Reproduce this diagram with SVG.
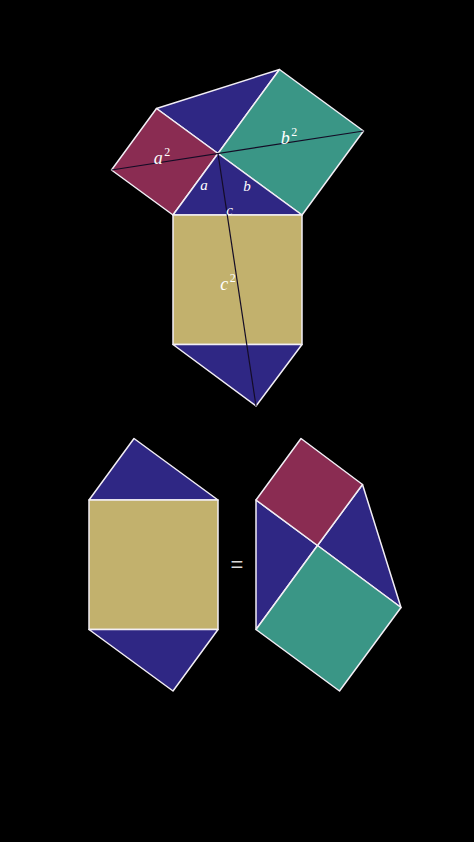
<svg xmlns="http://www.w3.org/2000/svg" width="474" height="842" viewBox="0 0 474 842">
<style>
.s{stroke:#f2eef5;stroke-width:1.5;stroke-linejoin:round}
.mar{fill:#8a2c52}
.blu{fill:#2f2784}
.tea{fill:#3a9686}
.yel{fill:#c2b16d}
.lbl{font-family:"Liberation Serif","DejaVu Serif",serif;font-style:italic;fill:#ffffff;text-anchor:middle}
.diag{stroke:#140c26;stroke-width:1.2;fill:none}
</style>
<rect width="474" height="842" fill="#000000"/>
<g id="top-figure">
  <g id="top-triangle-upper"><polygon class="blu s" points="218,153.5 156.5,108.5 279.5,69.5"/></g>
  <g id="square-a"><polygon class="mar s" points="218,153.5 173,215 111.5,170 156.5,108.5"/></g>
  <g id="square-b"><polygon class="tea s" points="218,153.5 302,215 363.5,131 279.5,69.5"/></g>
  <g id="triangle-abc"><polygon class="blu s" points="218,153.5 173,215 302,215"/></g>
  <g id="square-c"><polygon class="yel s" points="173,215 302,215 302,344.5 173,344.5"/></g>
  <g id="triangle-bottom"><polygon class="blu s" points="173,344.5 302,344.5 256,406"/></g>
</g>
<g id="connectors">
  <line class="diag" x1="111.5" y1="170" x2="363.5" y2="131"/>
  <line class="diag" x1="218" y1="153.5" x2="256" y2="406"/>
</g>
<g id="labels">
  <text class="lbl" x="162" y="164" font-size="18">a<tspan font-size="12" dx="1.5" dy="-8" font-style="normal">2</tspan></text>
  <text class="lbl" x="289" y="144" font-size="18">b<tspan font-size="12" dx="1.5" dy="-8" font-style="normal">2</tspan></text>
  <text class="lbl" x="204" y="190" font-size="15">a</text>
  <text class="lbl" x="247" y="191" font-size="15">b</text>
  <text class="lbl" x="229.5" y="215" font-size="15">c</text>
  <text class="lbl" x="228" y="290" font-size="18">c<tspan font-size="12" dx="1.5" dy="-8" font-style="normal">2</tspan></text>
</g>
<g id="left-figure">
  <g id="left-triangle-top"><polygon class="blu s" points="89,500 218,500 134,438.5"/></g>
  <g id="left-square-c"><polygon class="yel s" points="89,500 218,500 218,629.5 89,629.5"/></g>
  <g id="left-triangle-bottom"><polygon class="blu s" points="89,629.5 218,629.5 173,691"/></g>
</g>
<g id="equals"><text x="237" y="572" font-family="Liberation Sans, DejaVu Sans, sans-serif" font-size="22" fill="#d8d8d8" text-anchor="middle">=</text></g>
<g id="right-figure">
  <g id="right-triangle-left"><polygon class="blu s" points="256,500 256,629.5 317.5,545.5"/></g>
  <g id="right-triangle-right"><polygon class="blu s" points="317.5,545.5 362.5,484.5 401,607.5"/></g>
  <g id="right-square-a"><polygon class="mar s" points="256,500 301,438.5 362.5,484.5 317.5,545.5"/></g>
  <g id="right-square-b"><polygon class="tea s" points="317.5,545.5 401,607.5 339.5,691 256,629.5"/></g>
</g>
</svg>
